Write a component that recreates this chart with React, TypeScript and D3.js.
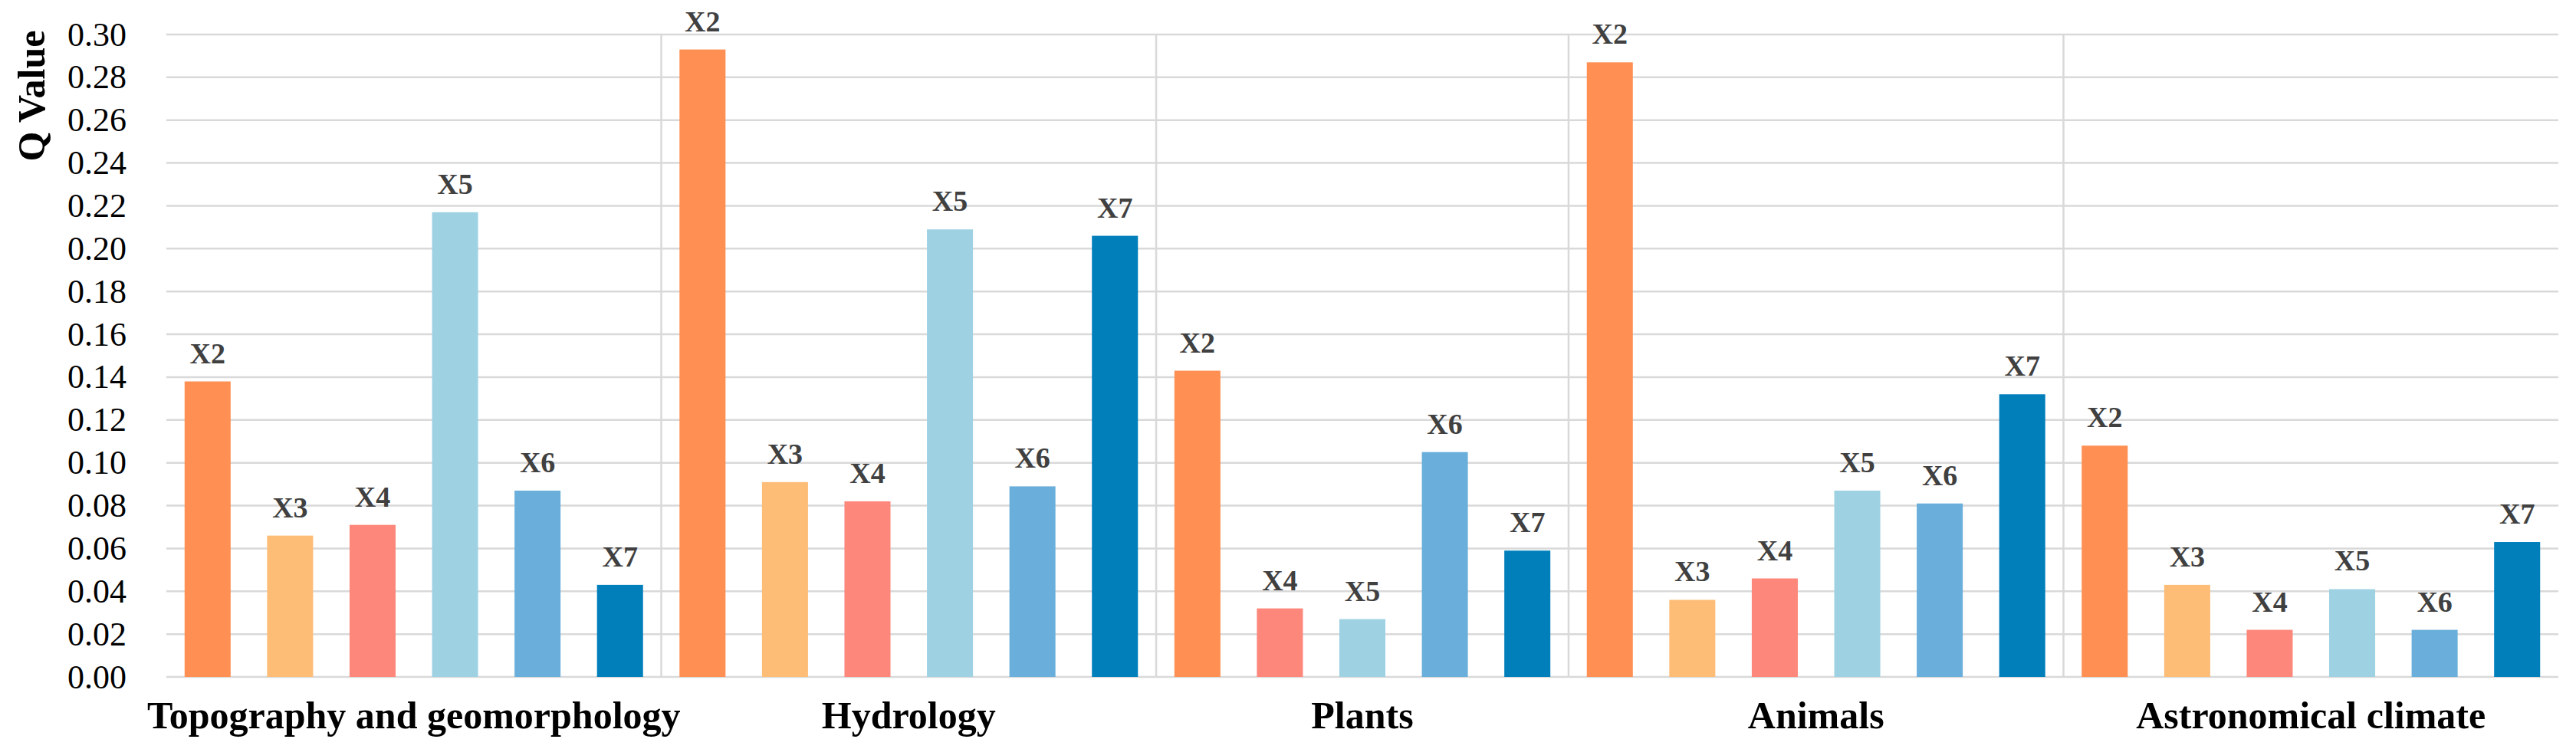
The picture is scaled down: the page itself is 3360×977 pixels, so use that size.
import { useEffect } from 'react';
import * as d3 from 'd3';

// Gruppen und Werte (Q-Wert je Faktor)
const groupNames = ['Topography and geomorphology', 'Hydrology', 'Plants', 'Animals', 'Astronomical climate'];

const topographyFactors = ['X2', 'X3', 'X4', 'X5', 'X6', 'X7'];
const topographyValues = [0.138, 0.066, 0.071, 0.217, 0.087, 0.043];

const hydrologyFactors = ['X2', 'X3', 'X4', 'X5', 'X6', 'X7'];
const hydrologyValues = [0.293, 0.091, 0.082, 0.209, 0.089, 0.206];

const plantsFactors = ['X2', 'X4', 'X5', 'X6', 'X7'];
const plantsValues = [0.143, 0.032, 0.027, 0.105, 0.059];

const animalsFactors = ['X2', 'X3', 'X4', 'X5', 'X6', 'X7'];
const animalsValues = [0.287, 0.036, 0.046, 0.087, 0.081, 0.132];

const climateFactors = ['X2', 'X3', 'X4', 'X5', 'X6', 'X7'];
const climateValues = [0.108, 0.043, 0.022, 0.041, 0.022, 0.063];

const yTicks = [0, 0.02, 0.04, 0.06, 0.08, 0.1, 0.12, 0.14, 0.16, 0.18, 0.2, 0.22, 0.24, 0.26, 0.28, 0.3];

const factorColors: Record<string, string> = {
  X2: '#FF8F52',
  X3: '#FDBD77',
  X4: '#FC877A',
  X5: '#9ED2E3',
  X6: '#6AAFDB',
  X7: '#007FBB',
};

const W = 3360;
const H = 977;
const margin = { left: 217, right: 23, top: 45, bottom: 94 };
const SERIF = '"Liberation Serif", "Times New Roman", serif';

export default function App() {
  useEffect(() => {
    document.body.style.margin = '0';
  }, []);

  const groupFactors = [topographyFactors, hydrologyFactors, plantsFactors, animalsFactors, climateFactors];
  const groupValues = [topographyValues, hydrologyValues, plantsValues, animalsValues, climateValues];

  const bars = groupNames.flatMap((g, gi) =>
    groupFactors[gi].map((f, i) => ({ key: `${g}|${f}`, group: g, factor: f, value: groupValues[gi][i] })),
  );

  const x = d3
    .scaleBand<string>()
    .domain(bars.map((d) => d.key))
    .range([margin.left, W - margin.right])
    .paddingInner(0.442)
    .paddingOuter(0.221);

  const y = d3.scaleLinear().domain([0, 0.3]).range([H - margin.bottom, margin.top]);

  const gap = (x.step() - x.bandwidth()) / 2;

  // Trennlinien zwischen Gruppen + Gruppenmitte
  const groupInfo = groupNames.map((g) => {
    const keys = bars.filter((b) => b.group === g).map((b) => b.key);
    const start = (x(keys[0]) ?? 0) - gap;
    const end = (x(keys[keys.length - 1]) ?? 0) + x.bandwidth() + gap;
    return { name: g, start, end, mid: (start + end) / 2 };
  });

  return (
    <svg width={W} height={H} style={{ display: 'block', background: '#fff' }}>
      {/* Grid */}
      {yTicks.map((t) => (
        <line
          key={t}
          x1={margin.left}
          x2={W - margin.right}
          y1={y(t)}
          y2={y(t)}
          stroke="#D9D9D9"
          strokeWidth={2.5}
        />
      ))}
      {groupInfo.slice(1).map((g) => (
        <line
          key={g.name}
          x1={g.start}
          x2={g.start}
          y1={y(0.3)}
          y2={y(0)}
          stroke="#D9D9D9"
          strokeWidth={2.5}
        />
      ))}

      {/* Y-Achse */}
      {yTicks.map((t) => (
        <text
          key={t}
          x={165}
          y={y(t)}
          textAnchor="end"
          dominantBaseline="central"
          fontFamily={SERIF}
          fontSize={44}
          fill="#000"
        >
          {d3.format('.2f')(t)}
        </text>
      ))}
      <text
        transform={`translate(58,${125}) rotate(-90)`}
        textAnchor="middle"
        fontFamily={SERIF}
        fontSize={50}
        fontWeight="bold"
        fill="#000"
      >
        Q Value
      </text>

      {/* Balken */}
      {bars.map((b) => (
        <g key={b.key}>
          <rect
            x={x(b.key)}
            y={y(b.value)}
            width={x.bandwidth()}
            height={y(0) - y(b.value)}
            fill={factorColors[b.factor]}
          />
          <text
            x={(x(b.key) ?? 0) + x.bandwidth() / 2}
            y={y(b.value) - 24}
            textAnchor="middle"
            fontFamily={SERIF}
            fontSize={38}
            fontWeight="bold"
            fill="#404040"
          >
            {b.factor}
          </text>
        </g>
      ))}

      {/* Gruppenbeschriftung */}
      {groupInfo.map((g) => (
        <text
          key={g.name}
          x={g.mid}
          y={950}
          textAnchor="middle"
          fontFamily={SERIF}
          fontSize={50}
          fontWeight="bold"
          fill="#000"
        >
          {g.name}
        </text>
      ))}
    </svg>
  );
}
